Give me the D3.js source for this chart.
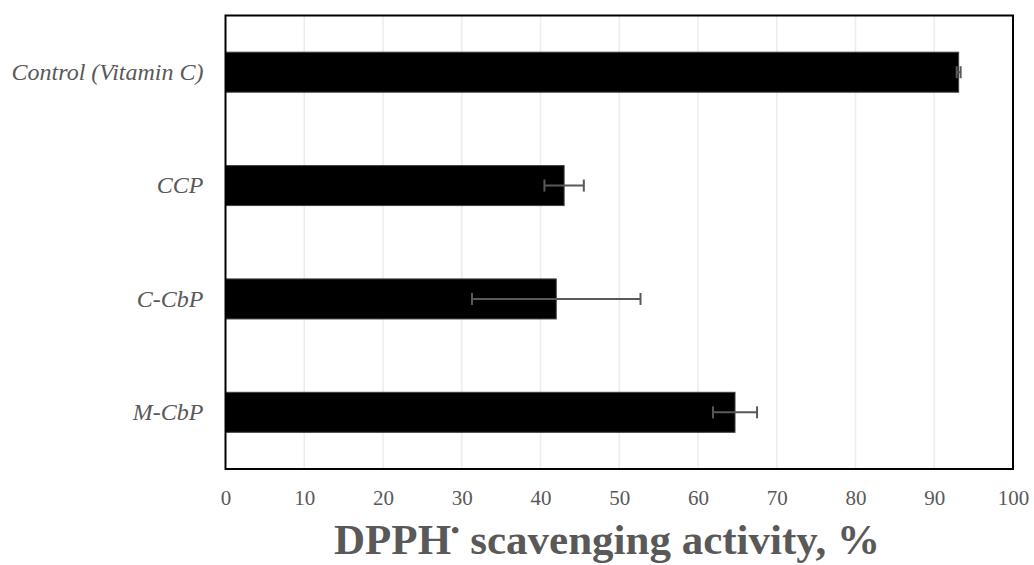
<!DOCTYPE html>
<html>
<head>
<meta charset="utf-8">
<script src="https://cdn.jsdelivr.net/npm/d3@7"></script>
<style>
  body { margin: 0; background: #fff; }
</style>
</head>
<body>
<div id="chart"></div>
<script>
// values (top to bottom)
var categories = ["Control (Vitamin C)", "CCP", "C-CbP", "M-CbP"];
var activity = [93.1, 43.0, 42.0, 64.7];
var errors = [0.25, 2.5, 10.7, 2.8];
var xTicks = [0, 10, 20, 30, 40, 50, 60, 70, 80, 90, 100];

var serif = '"Liberation Serif"';
var grey = "#595959";

var W = 1034, H = 565;
var margin = {top: 15.5, right: 21, bottom: 96, left: 225.5};
var width = W - margin.left - margin.right;
var height = H - margin.top - margin.bottom;

var svg = d3.select("#chart").append("svg")
	.attr("width", W)
	.attr("height", H);

var g = svg.append("g")
	.attr("transform", "translate(" + margin.left + "," + margin.top + ")");

var x = d3.scaleLinear().domain([0, 100]).range([0, width]);
var y = d3.scaleBand().domain(categories).range([0, height]).paddingInner(0.647).paddingOuter(0.3235);

// gridlines
g.selectAll(".grid").data(xTicks.slice(1, -1)).enter().append("line")
	.attr("class", "grid")
	.attr("x1", function(d) { return x(d); })
	.attr("x2", function(d) { return x(d); })
	.attr("y1", 0)
	.attr("y2", height)
	.attr("stroke", "#ececec")
	.attr("stroke-width", 1.5);

// bars
g.selectAll(".bar").data(categories).enter().append("rect")
	.attr("class", "bar")
	.attr("x", 0)
	.attr("y", function(d) { return y(d); })
	.attr("width", function(d, i) { return x(activity[i]); })
	.attr("height", y.bandwidth())
	.attr("fill", "#000")
	.attr("stroke", "#404040")
	.attr("stroke-width", 1);

// error bars
var eb = g.selectAll(".err").data(categories).enter().append("g").attr("class", "err");
eb.append("line")
	.attr("x1", function(d, i) { return x(activity[i] - errors[i]); })
	.attr("x2", function(d, i) { return x(activity[i] + errors[i]); })
	.attr("y1", function(d) { return y(d) + y.bandwidth() / 2; })
	.attr("y2", function(d) { return y(d) + y.bandwidth() / 2; })
	.attr("stroke", grey)
	.attr("stroke-width", 2);
[-1, 1].forEach(function(s) {
	eb.append("line")
		.attr("x1", function(d, i) { return x(activity[i] + s * errors[i]); })
		.attr("x2", function(d, i) { return x(activity[i] + s * errors[i]); })
		.attr("y1", function(d) { return y(d) + y.bandwidth() / 2 - 6; })
		.attr("y2", function(d) { return y(d) + y.bandwidth() / 2 + 6; })
		.attr("stroke", grey)
		.attr("stroke-width", 2);
});

// frame
g.append("rect")
	.attr("width", width)
	.attr("height", height)
	.attr("fill", "none")
	.attr("stroke", "#000")
	.attr("stroke-width", 2);

// x axis labels
var xAxis = d3.axisBottom(x).tickValues(xTicks).tickSize(0).tickPadding(21);
var ax = g.append("g")
	.attr("transform", "translate(0," + height + ")")
	.call(xAxis)
	.attr("font-family", null)
	.attr("font-size", null);
ax.select(".domain").remove();
ax.selectAll("text")
	.style("fill", grey)
	.style("font-size", "21px")
	.style("font-family", serif);

// y axis labels
var yAxis = d3.axisLeft(y).tickSize(0).tickPadding(22);
var ay = g.append("g").call(yAxis)
	.attr("font-family", null)
	.attr("font-size", null);
ay.select(".domain").remove();
ay.selectAll("text")
	.style("fill", grey)
	.style("font-size", "24px")
	.style("font-style", "italic")
	.style("font-family", serif);

// axis title
var title = svg.append("text")
	.attr("x", 607)
	.attr("y", 554)
	.attr("text-anchor", "middle")
	.style("fill", grey)
	.style("font-family", serif)
	.style("font-size", "43px")
	.style("font-weight", "bold");
title.append("tspan").text("DPPH");
title.append("tspan").attr("dy", -16).style("font-size", "24px").text("•");
title.append("tspan").attr("dy", 16).text(" scavenging activity, %");
</script>
</body>
</html>
